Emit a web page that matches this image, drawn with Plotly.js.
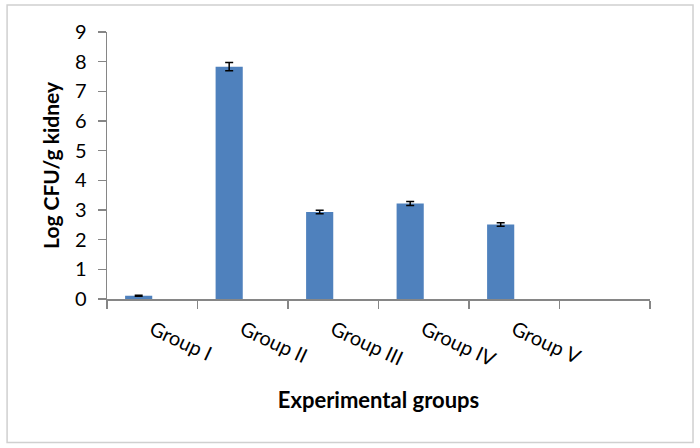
<!DOCTYPE html>
<html>
<head>
<meta charset="utf-8">
<script src="https://cdn.plot.ly/plotly-3.0.1.min.js"></script>
<style>html,body{margin:0;padding:0;background:#fff;}#chart{width:700px;height:448px;}</style>
</head>
<body>
<div id="chart"></div>
<script>
var categories = ["Group I", "Group II", "Group III", "Group IV", "Group V", " "];
var logCFU = [0.11, 7.83, 2.93, 3.22, 2.51, null];
var errors = [0.02, 0.14, 0.06, 0.07, 0.06, null];
var yTicks = [0, 1, 2, 3, 4, 5, 6, 7, 8, 9];

var trace = {
  type: 'bar',
  x: categories,
  y: logCFU,
  width: 0.3,
  offset: -0.3,
  marker: {color: '#4F81BD'},
  error_y: {type: 'data', array: errors, visible: true, color: '#000', thickness: 1.5, width: 4},
  hoverinfo: 'x+y'
};

var layout = {
  width: 700, height: 448,
  margin: {l: 107, r: 50, t: 32, b: 149.3},
  paper_bgcolor: '#fff', plot_bgcolor: '#fff',
  showlegend: false,
  font: {family: 'Lato, "Open Sans", sans-serif', color: '#000'},
  xaxis: {
    type: 'category',
    range: [-0.5, 5.5],
    showline: true, linecolor: '#868686', linewidth: 1.5,
    ticks: 'outside', ticklen: 8, tickcolor: '#868686', tickwidth: 1.5,
    tickson: 'boundaries',
    tickangle: 25,
    ticklabelstandoff: 10,
    tickfont: {size: 20, family: 'Lato, sans-serif'},
    showgrid: false, zeroline: false,
    automargin: false,
    title: {text: '<b>Experimental groups</b>', font: {size: 22, family: 'Lato, sans-serif'}, standoff: 22}
  },
  yaxis: {
    range: [0, 9],
    tickvals: yTicks,
    showline: true, linecolor: '#868686', linewidth: 1.5,
    ticks: 'outside', ticklen: 8, tickcolor: '#868686', tickwidth: 1.5,
    ticklabelstandoff: 7,
    tickfont: {size: 20, family: 'Lato, sans-serif'},
    showgrid: false, zeroline: false,
    automargin: false,
    title: {text: '<b>Log CFU/g kidney</b>', font: {size: 21, family: 'Lato, sans-serif'}, standoff: 9}
  },
  shapes: [{
    type: 'rect', xref: 'paper', yref: 'paper',
    x0: -0.184, x1: 1.0792, y0: -0.537, y1: 1.101,
    line: {color: '#D0D0D0', width: 1.5}, fillcolor: 'rgba(0,0,0,0)', layer: 'below'
  }]
};

Plotly.newPlot('chart', [trace], layout, {displayModeBar: false, staticPlot: true});
</script>
</body>
</html>
